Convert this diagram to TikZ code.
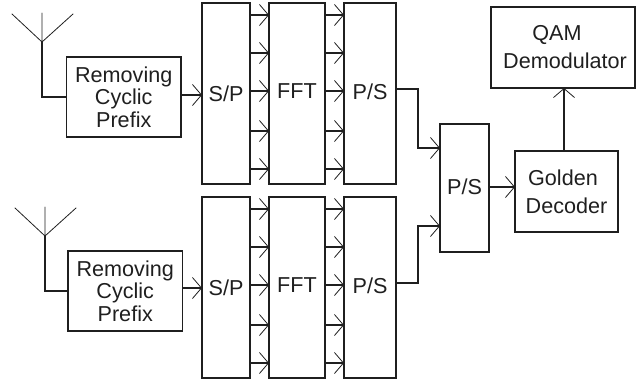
\documentclass[tikz,border=0pt]{standalone}
\usepackage{fontspec}
\setmainfont{Liberation Sans}
\usetikzlibrary{arrows.meta}
\definecolor{ink}{gray}{0.12}
\tikzset{
  box/.style={draw=ink,text=ink,line width=1.1pt,inner sep=0pt,outer sep=0pt,align=center,
    font=\fontsize{21.6}{28}\selectfont},
  tight/.style={font=\fontsize{21.6}{22.5}\selectfont},
  conn/.style={draw=ink,line width=1.1pt,-{Straight Barb[length=9pt,width=21pt,line width=0.8pt]}},
  wire/.style={draw=ink,line width=1.1pt,line join=miter},
  aerial/.style={draw=ink,line width=0.8pt,line cap=round}
}
\begin{document}
\begin{tikzpicture}[x=1pt,y=-1pt]
\useasboundingbox (0,0) rectangle (643,383);
% top branch
\node[box,tight,minimum width=114.5pt,minimum height=80pt] (rem1) at (123.75,97) {Removing\\Cyclic\\Prefix};
\node[box,minimum width=48pt,minimum height=181pt] (sp1) at (226,93.5) {S/P};
\node[box,minimum width=56pt,minimum height=181pt] (fft1) at (297,93.5) {\raisebox{4pt}{FFT}};
\node[box,minimum width=52pt,minimum height=181pt] (ps1) at (370,93.5) {\raisebox{4pt}{P/S}};
% bottom branch
\node[box,tight,minimum width=114.5pt,minimum height=80pt] (rem2) at (125.25,291) {Removing\\Cyclic\\Prefix};
\node[box,minimum width=48pt,minimum height=181pt] (sp2) at (226,287.5) {S/P};
\node[box,minimum width=56pt,minimum height=181pt] (fft2) at (297,287.5) {\raisebox{4pt}{FFT}};
\node[box,minimum width=52pt,minimum height=181pt] (ps2) at (370,287.5) {\raisebox{4pt}{P/S}};
% right side
\node[box,minimum width=49pt,minimum height=128pt] (ps3) at (464.5,188) {\raisebox{3pt}{P/S}};
\node[box,minimum width=103pt,minimum height=81pt] (gold) at (566.5,191.5) {\hspace*{-7pt}Golden\\Decoder};
\node[box,minimum width=144pt,minimum height=81pt] (qam) at (563,47.5) {\hspace*{-12pt}QAM\\\hspace*{4pt}Demodulator};
% antennas
\coordinate (a1t) at (42,13);
\coordinate (a1j) at (42,42);
\coordinate (a1l) at (12,14);
\coordinate (a1r) at (73,14);
\coordinate (a2t) at (45,207);
\coordinate (a2j) at (45,236);
\coordinate (a2l) at (15,208);
\coordinate (a2r) at (76,208);
\draw[aerial] (a1t) -- (a1j) (a1l) -- (a1j) -- (a1r);
\draw[aerial] (a2t) -- (a2j) (a2l) -- (a2j) -- (a2r);
\draw[wire] (a1j) |- (rem1.west);
\draw[wire] (a2j) |- (rem2.west);
% front-end arrows
\draw[conn] (rem1.east |- 0,95) -- (sp1.west |- 0,95);
\draw[conn] (rem2.east |- 0,288) -- (sp2.west |- 0,288);
% parallel arrows
\foreach \yy in {15,53,91,131,169}{
  \draw[conn] (sp1.east |- 0,\yy) -- (fft1.west |- 0,\yy);
  \draw[conn] (fft1.east |- 0,\yy) -- (ps1.west |- 0,\yy);
}
\foreach \yy in {209,247,285,325,363}{
  \draw[conn] (sp2.east |- 0,\yy) -- (fft2.west |- 0,\yy);
  \draw[conn] (fft2.east |- 0,\yy) -- (ps2.west |- 0,\yy);
}
% merge
\draw[conn] (ps1.east |- 0,89) -- (418,89) -- (418,148) -- (ps3.west |- 0,148);
\draw[conn] (ps2.east |- 0,283) -- (418,283) -- (418,226) -- (ps3.west |- 0,226);
\draw[conn] (ps3.east |- 0,187) -- (gold.west |- 0,187);
\draw[conn] (gold.north -| 564,0) -- (qam.south -| 564,0);
\end{tikzpicture}
\end{document}
